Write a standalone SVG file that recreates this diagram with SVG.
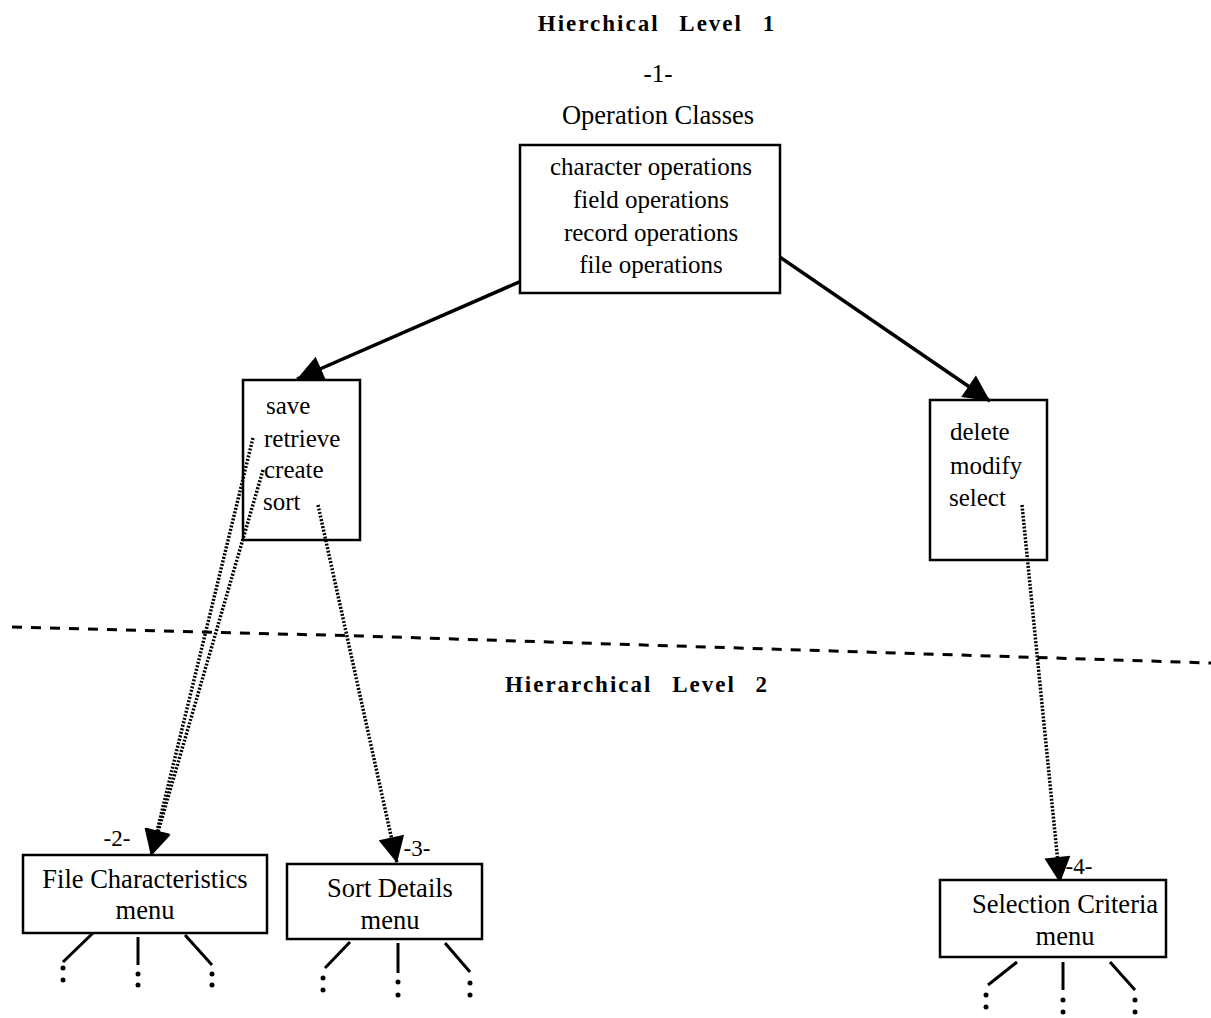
<svg xmlns="http://www.w3.org/2000/svg" width="1211" height="1018" viewBox="0 0 1211 1018">
<style>
text{font-family:"Liberation Serif","Times New Roman",serif;fill:#000}
.t{font-size:25px}
.m{font-size:26.5px}
.h{font-size:23px;font-weight:bold;letter-spacing:2px;word-spacing:12px}
.n{font-size:23px}
.box{fill:#fff;stroke:#000;stroke-width:2.5}
.open{fill:none;stroke:#000;stroke-width:2.5}
.solid{stroke:#000;stroke-width:3.5;fill:none}
.dot{stroke:#000;stroke-width:3.5;fill:none;stroke-dasharray:2 1.6}
.dash{stroke:#000;stroke-width:3;fill:none;stroke-dasharray:10 9}
.leg{stroke:#000;stroke-width:3;fill:none}
</style>
<defs>
<marker id="big" viewBox="0 0 10 10" refX="10" refY="5" markerWidth="28" markerHeight="26" orient="auto" markerUnits="userSpaceOnUse">
<path d="M0,0 L10,5 L0,10 z" fill="#000"/>
</marker>
</defs>

<text class="h" x="657" y="31" text-anchor="middle">Hierchical Level 1</text>
<text class="h" x="637" y="692" text-anchor="middle">Hierarchical Level 2</text>
<text class="t" x="658" y="82" text-anchor="middle">-1-</text>
<text class="m" x="658" y="124" text-anchor="middle">Operation Classes</text>

<g id="connectors">
<path class="dash" d="M12,627 L360,636 L1211,663"/>
<line class="solid" x1="565" y1="262" x2="297" y2="379" marker-end="url(#big)"/>
<line class="solid" x1="752" y1="238" x2="990" y2="401" marker-end="url(#big)"/>
<line class="dot" x1="253" y1="438" x2="151" y2="856" marker-end="url(#big)"/>
<line class="dot" x1="263" y1="470" x2="151" y2="856" marker-end="url(#big)"/>
<line class="dot" x1="318" y1="505" x2="397" y2="863" marker-end="url(#big)"/>
<line class="dot" x1="1022" y1="505" x2="1060" y2="883" marker-end="url(#big)"/>
<g id="legs">
<line class="leg" x1="93" y1="933" x2="63" y2="962"/>
<line class="leg" x1="138" y1="937" x2="138" y2="965"/>
<line class="leg" x1="185" y1="935" x2="212" y2="965"/>
<line class="leg" x1="350" y1="942" x2="325" y2="968"/>
<line class="leg" x1="398" y1="943" x2="398" y2="973"/>
<line class="leg" x1="445" y1="943" x2="470" y2="972"/>
<line class="leg" x1="1017" y1="962" x2="988" y2="985"/>
<line class="leg" x1="1063" y1="962" x2="1063" y2="990"/>
<line class="leg" x1="1110" y1="962" x2="1135" y2="990"/>
</g>
<g id="dots" fill="#000">
<circle cx="63" cy="968" r="2.5"/><circle cx="63" cy="980" r="2.5"/>
<circle cx="138" cy="974" r="2.5"/><circle cx="138" cy="985" r="2.5"/>
<circle cx="212" cy="974" r="2.5"/><circle cx="212" cy="985" r="2.5"/>
<circle cx="323" cy="978" r="2.5"/><circle cx="323" cy="990" r="2.5"/>
<circle cx="398" cy="982" r="2.5"/><circle cx="398" cy="995" r="2.5"/>
<circle cx="470" cy="983" r="2.5"/><circle cx="470" cy="995" r="2.5"/>
<circle cx="986" cy="995" r="2.5"/><circle cx="986" cy="1007" r="2.5"/>
<circle cx="1063" cy="1000" r="2.5"/><circle cx="1063" cy="1012" r="2.5"/>
<circle cx="1135" cy="1000" r="2.5"/><circle cx="1135" cy="1012" r="2.5"/>
</g>
</g>

<g id="node1">
<rect class="box" x="520" y="145" width="260" height="148"/>
<text class="t" x="651" y="175" text-anchor="middle">character operations</text>
<text class="t" x="651" y="208" text-anchor="middle">field operations</text>
<text class="t" x="651" y="241" text-anchor="middle">record operations</text>
<text class="t" x="651" y="273" text-anchor="middle">file operations</text>
</g>

<g id="node-save">
<rect class="open" x="243" y="380" width="117" height="160"/>
<text class="t" x="266" y="414">save</text>
<text class="t" x="264" y="447">retrieve</text>
<text class="t" x="264" y="478">create</text>
<text class="t" x="263" y="510">sort</text>
</g>

<g id="node-delete">
<rect class="open" x="930" y="400" width="117" height="160"/>
<text class="t" x="950" y="440">delete</text>
<text class="t" x="950" y="474">modify</text>
<text class="t" x="949" y="506">select</text>
</g>

<g id="node2">
<rect class="box" x="23" y="855" width="244" height="78"/>
<text class="n" x="117" y="846" text-anchor="middle">-2-</text>
<text class="m" x="145" y="888" text-anchor="middle">File Characteristics</text>
<text class="m" x="145" y="919" text-anchor="middle">menu</text>
</g>

<g id="node3">
<rect class="box" x="287" y="864" width="195" height="75"/>
<text class="n" x="417" y="856" text-anchor="middle">-3-</text>
<text class="m" x="390" y="897" text-anchor="middle">Sort Details</text>
<text class="m" x="390" y="929" text-anchor="middle">menu</text>
</g>

<g id="node4">
<rect class="box" x="940" y="880" width="226" height="77"/>
<text class="n" x="1079" y="874" text-anchor="middle">-4-</text>
<text class="m" x="1065" y="913" text-anchor="middle">Selection Criteria</text>
<text class="m" x="1065" y="945" text-anchor="middle">menu</text>
</g>
</svg>
